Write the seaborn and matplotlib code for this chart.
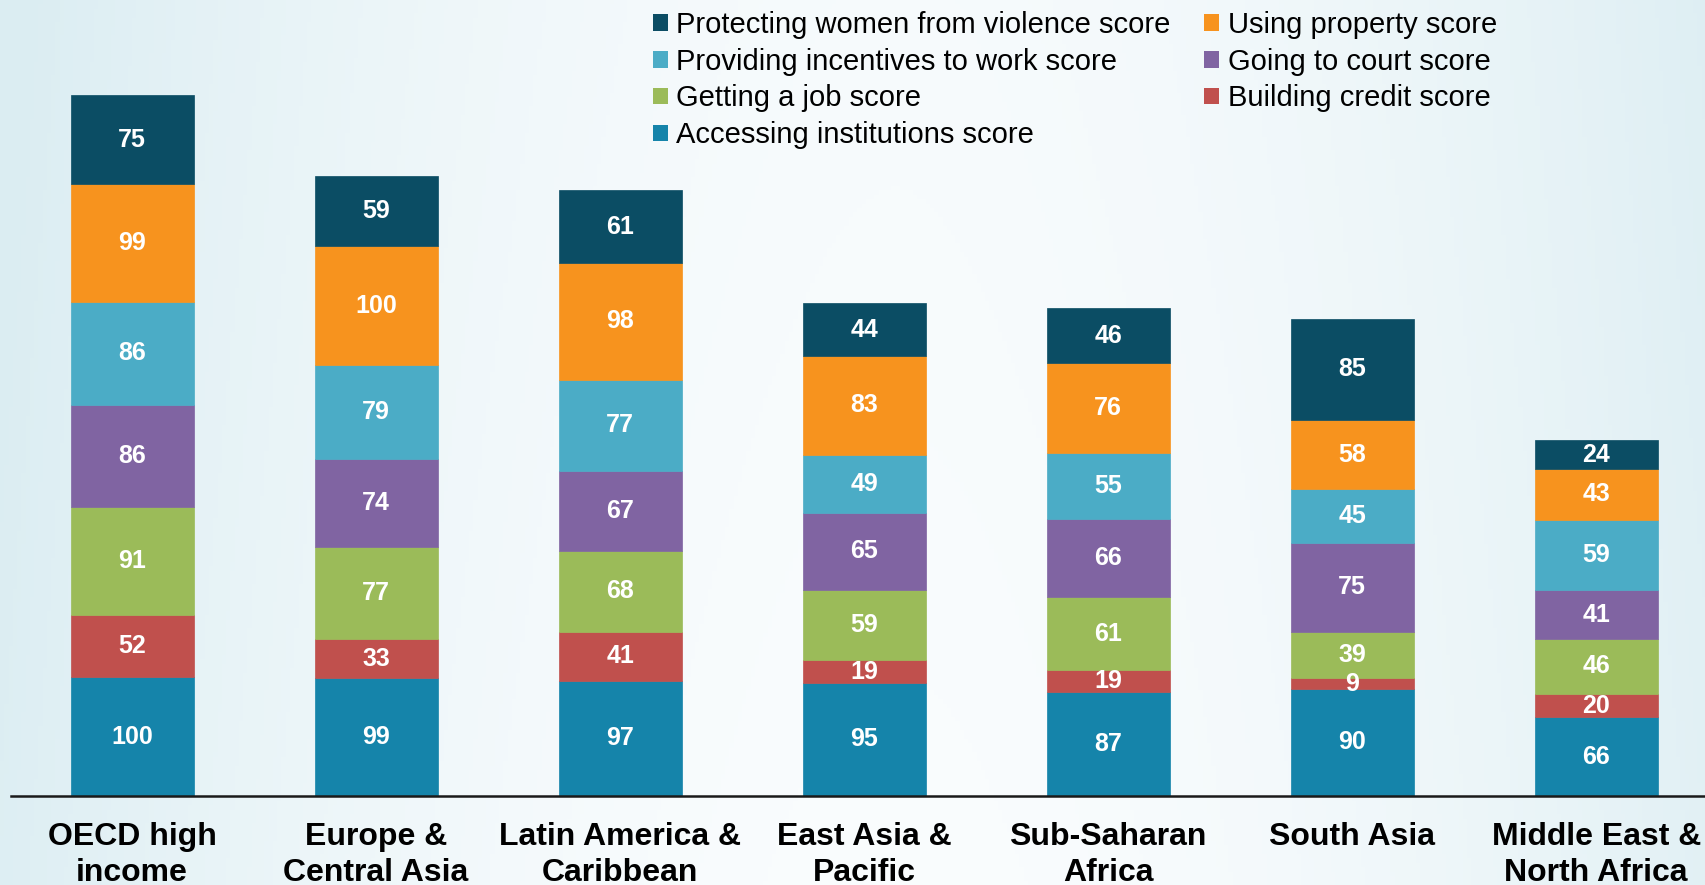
import numpy as np
import pandas as pd
import matplotlib
matplotlib.use("Agg")
import matplotlib.pyplot as plt
import seaborn as sns
from matplotlib.patches import Patch

regions = ["OECD high\nincome", "Europe &\nCentral Asia", "Latin America &\nCaribbean",
           "East Asia &\nPacific", "Sub-Saharan\nAfrica", "South Asia", "Middle East &\nNorth Africa"]

# stacked bottom -> top
accessing = [100, 99, 97, 95, 87, 90, 66]
credit = [52, 33, 41, 19, 19, 9, 20]
job = [91, 77, 68, 59, 61, 39, 46]
court = [86, 74, 67, 65, 66, 75, 41]
incentives = [86, 79, 77, 49, 55, 45, 59]
property_ = [99, 100, 98, 83, 76, 58, 43]
violence = [75, 59, 61, 44, 46, 85, 24]

series = [
    ("Accessing institutions score", accessing, "#1584AA"),
    ("Building credit score", credit, "#C0504D"),
    ("Getting a job score", job, "#9BBB59"),
    ("Going to court score", court, "#8064A2"),
    ("Providing incentives to work score", incentives, "#4BACC6"),
    ("Using property score", property_, "#F7931E"),
    ("Protecting women from violence score", violence, "#0B4D64"),
]

sns.set_style("white")
plt.rcParams["font.family"] = ["Liberation Sans", "DejaVu Sans"]
plt.rcParams["text.color"] = "black"
plt.rcParams["xtick.color"] = "black"

W, H = 1706, 885
fig = plt.figure(figsize=(W / 100, H / 100), dpi=100)

# background gradient
bg = fig.add_axes([0, 0, 1, 1], zorder=-1)
xx = np.linspace(-1, 1, 400)
yy = np.linspace(0, 1, 200)
X, Y = np.meshgrid(xx, yy)
t = np.clip(np.abs(X - 0.05) ** 1.8 * 0.85 + Y * 0.12, 0, 1)
c0 = np.array([0.98, 0.99, 0.995])
c1 = np.array([0.86, 0.93, 0.95])
img = c0[None, None, :] * (1 - t[..., None]) + c1[None, None, :] * t[..., None]
bg.imshow(img, aspect="auto", extent=[0, 1, 0, 1], origin="lower")
bg.axis("off")

ax = fig.add_axes([11 / W, 89 / H, 1 - 11 / W, 796 / H])
ax.patch.set_alpha(0)

df = pd.DataFrame({"region": regions})
bottom = np.zeros(len(regions))
for name, vals, col in series:
    sns.barplot(x=df["region"], y=vals, bottom=bottom, color=col, width=0.504,
                saturation=1, errorbar=None, ax=ax, edgecolor=col, linewidth=0.5)
    cont = ax.containers[-1]
    ax.bar_label(cont, labels=[str(v) for v in vals], label_type="center",
                 color="white", fontsize=18, fontweight="bold")
    bottom = bottom + np.array(vals)

ax.set_xlim(-0.496, 6.45)
ax.set_ylim(0, 669)
ax.set_xlabel("")
ax.set_ylabel("")
ax.set_yticks([])
ax.tick_params(axis="x", length=0, pad=19, labelsize=23, labelcolor="black")
for lbl in ax.get_xticklabels():
    lbl.set_fontweight("bold")
    lbl.set_linespacing(1.25)
    lbl.set_verticalalignment("top")
for s in ["top", "right", "left"]:
    ax.spines[s].set_visible(False)
ax.spines["bottom"].set_color("#1a1a1a")
ax.spines["bottom"].set_linewidth(1.8)

leg_order = [6, 4, 2, 0, 5, 3, 1]
handles = [Patch(facecolor=series[i][2], edgecolor="none", label=series[i][0]) for i in leg_order]
fig.legend(handles=handles, loc="upper left", bbox_to_anchor=(653 / W, 1 - 11 / H),
           ncol=2, frameon=False, fontsize=21, handlelength=0.5, handleheight=0.5,
           handletextpad=0.3, labelspacing=0.3, columnspacing=1.15, borderpad=0,
           borderaxespad=0, labelcolor="black")

fig.savefig("out.png", dpi=100)
